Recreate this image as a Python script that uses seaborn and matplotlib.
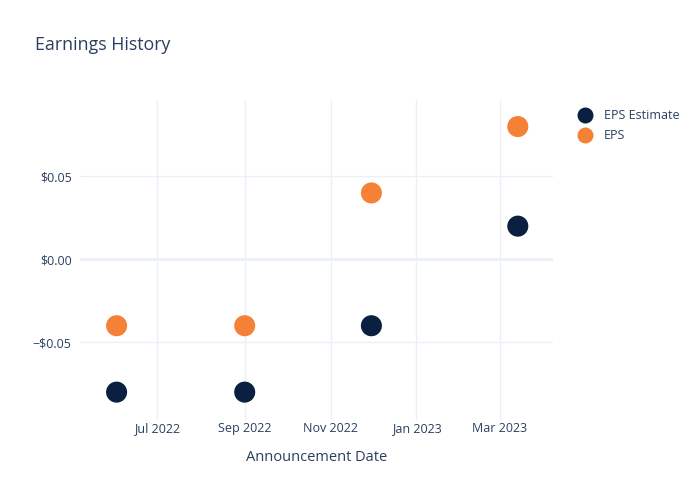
import matplotlib
matplotlib.use("Agg")
import matplotlib.pyplot as plt
import matplotlib.dates as mdates
import matplotlib.ticker as mticker
import seaborn as sns
import pandas as pd
import numpy as np

dates = ["2022-06-02", "2022-09-01", "2022-11-30", "2023-03-14"]
eps_estimate = [-0.08, -0.08, -0.04, 0.02]
eps_actual = [-0.04, -0.04, 0.04, 0.08]
series_names = ["EPS Estimate", "EPS"]
colors = ["#0B1F40", "#F58137"]

df = pd.DataFrame({
    "date": pd.to_datetime(dates * 2),
    "value": eps_estimate + eps_actual,
    "series": [series_names[0]] * len(dates) + [series_names[1]] * len(dates),
})

sns.set_theme(style="white")
plt.rcParams['font.family'] = ['Open Sans', 'DejaVu Sans']
text_color = "#2a3f5f"
grid_color = "#EBF0F8"

fig = plt.figure(figsize=(7, 5), dpi=100)
ax = fig.add_axes([80/700, 80/500, (553-80)/700, 320/500])

sns.scatterplot(data=df, x="date", y="value", hue="series", hue_order=series_names,
                palette=colors, s=230, linewidth=0, ax=ax, legend=False, zorder=3)

ax.set_xlim(pd.Timestamp("2022-05-07"), pd.Timestamp("2023-04-08"))
ax.set_ylim(-0.0968, 0.0960)

ax.xaxis.set_major_locator(mdates.MonthLocator(bymonth=[1, 3, 5, 7, 9, 11]))
ax.xaxis.set_major_formatter(mdates.DateFormatter("%b %Y"))
ax.set_yticks([-0.05, 0.0, 0.05])
def fmt(v, pos):
    if abs(v) < 1e-9:
        return "$0.00"
    return ("\u2212$%.2f" % abs(v)) if v < 0 else ("$%.2f" % v)
ax.yaxis.set_major_formatter(mticker.FuncFormatter(fmt))

ax.grid(True, color=grid_color, linewidth=1, zorder=0)
ax.axhline(0, color=grid_color, linewidth=2, zorder=1)
for s in ax.spines.values():
    s.set_visible(False)
ax.tick_params(axis="both", length=0, labelsize=9, colors=text_color)
ax.tick_params(axis="y", pad=6)
ax.tick_params(axis="x", pad=1.5)
ax.set_xlabel("Announcement Date", fontsize=10.5, color=text_color, labelpad=11)
ax.set_ylabel("")

fig.text(35/700, 1 - 45/500, "Earnings History", fontsize=12.8, color=text_color,
         va="center", ha="left")

handles = [plt.Line2D([], [], marker="o", linestyle="", markersize=11.5,
                      markerfacecolor=c, markeredgewidth=0) for c in colors]
fig.legend(handles, series_names, loc="upper left", bbox_to_anchor=(571/700, 1 - 104/500),
           frameon=False, fontsize=9, labelcolor=text_color, handletextpad=0.75,
           labelspacing=0.55, borderaxespad=0, handlelength=1.5)

fig.savefig("out.png", dpi=100)
